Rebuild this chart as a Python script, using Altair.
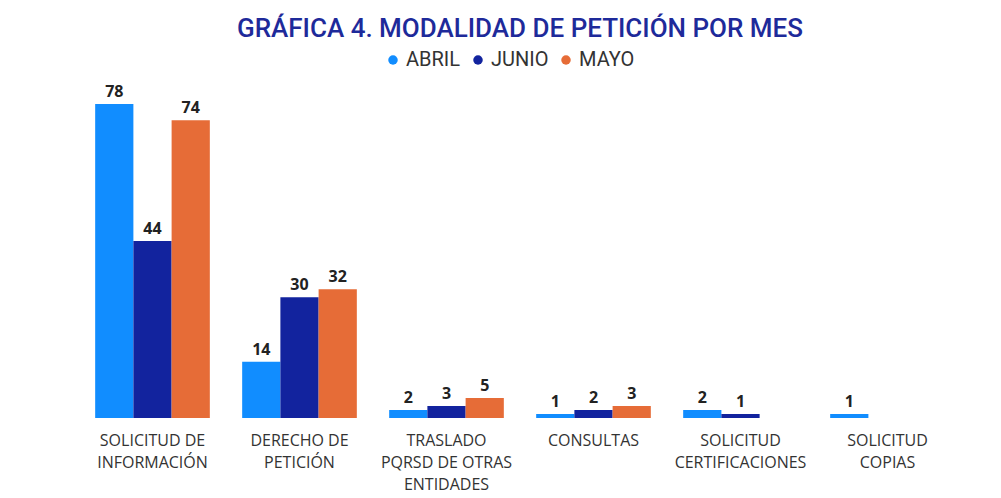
import altair as alt
import pandas as pd

categorias = [
    "SOLICITUD DE|INFORMACIÓN",
    "DERECHO DE|PETICIÓN",
    "TRASLADO|PQRSD DE OTRAS|ENTIDADES",
    "CONSULTAS",
    "SOLICITUD|CERTIFICACIONES",
    "SOLICITUD|COPIAS",
]
meses = ["ABRIL", "JUNIO", "MAYO"]
abril = [78, 14, 2, 1, 2, 1]
junio = [44, 30, 3, 2, 1, None]
mayo = [74, 32, 5, 3, None, None]
colores = ["#118DFF", "#12239E", "#E66C37"]

rows = []
for mes, vals in zip(meses, [abril, junio, mayo]):
    for c, v in zip(categorias, vals):
        if v is not None:
            rows.append({"cat": c, "mes": mes, "valor": v})
df = pd.DataFrame(rows)

x = alt.X("cat:N", sort=categorias, title=None,
          scale=alt.Scale(paddingInner=0.22, paddingOuter=0.11),
          axis=alt.Axis(labelExpr="split(datum.label, '|')", labelAngle=0,
                        labelFontSize=16, labelColor="#333333", labelFont="Open Sans",
                        labelLineHeight=22, labelPadding=14, domain=False, ticks=False,
                        labelBaseline="top"))
y = alt.Y("valor:Q", scale=alt.Scale(domain=[0, 80]), axis=None)
xo = alt.XOffset("mes:N", sort=meses, scale=alt.Scale(paddingInner=0))

bars = alt.Chart(df).mark_bar().encode(
    x=x, y=y, xOffset=xo,
    color=alt.Color("mes:N", sort=meses,
                    scale=alt.Scale(domain=meses, range=colores),
                    legend=alt.Legend(title=None, orient="none", direction="horizontal",
                                      legendX=304, legendY=-46, symbolType="circle",
                                      symbolSize=90, labelFontSize=20, labelColor="#333333",
                                      labelFont="Roboto",
                                      columnPadding=7, symbolOffset=0, labelOffset=3)),
)

labels = alt.Chart(df).mark_text(dy=-12, fontSize=16, fontWeight="bold",
                                 font="Open Sans", color="#222222").encode(
    x=x, y=y, xOffset=xo, text="valor:Q")

chart = alt.layer(bars, labels).properties(
    width=882, height=322,
    background="white",
    title=alt.TitleParams("GRÁFICA 4. MODALIDAD DE PETICIÓN POR MES", anchor="middle",
                          fontSize=26, fontWeight=500, color="#1E2A9A",
                          font="Roboto", offset=8),
    autosize=alt.AutoSizeParams(type="none"),
    padding={"left": 71, "top": 88, "right": 32, "bottom": 80},
).configure_view(stroke=None, strokeWidth=0)

chart.save("out.html", embed_options={"renderer": "svg", "actions": False})
